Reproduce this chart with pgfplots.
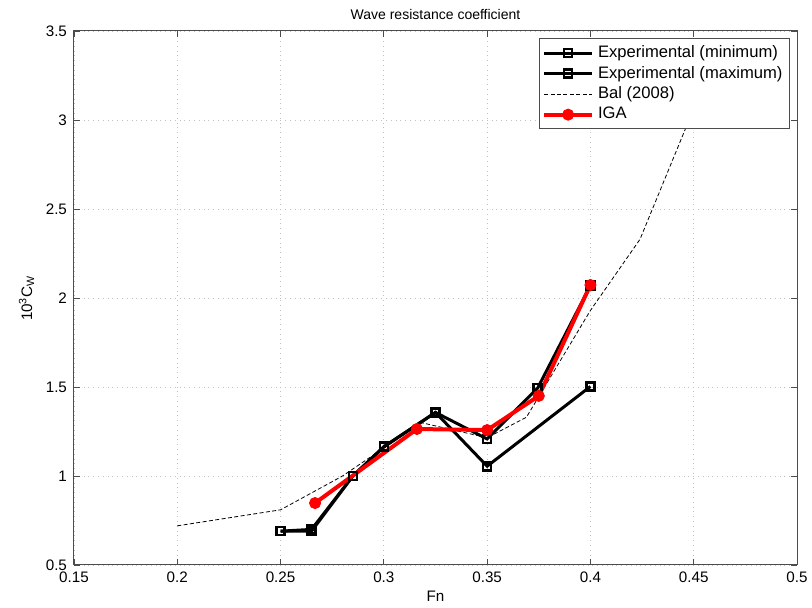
\documentclass[border=0pt]{standalone}
\usepackage{pgfplots}
\pgfplotsset{compat=1.18}
\usepackage{fontspec}
\setmainfont{Liberation Sans}

\begin{document}
\begin{tikzpicture}
\begin{axis}[
    scale only axis,
    width=361.5pt,
    height=267pt,
    xmin=0.15, xmax=0.5,
    ymin=0.5, ymax=3.5,
    xtick={0.15,0.2,...,0.5},
    ytick={0.5,1,...,3.5},
    xticklabel style={/pgf/number format/fixed,/pgf/number format/precision=2},
    yticklabel style={/pgf/number format/fixed},
    /pgf/number format/assume math mode=true,
    font=\fontsize{7.6}{9}\selectfont,
    title style={font=\fontsize{7}{8}\selectfont, yshift=-4pt},
    tick align=inside,
    tick pos=both,
    major tick length=3pt,
    axis line style={black!70, line width=0.5pt},
    tick style={black!70, line width=0.4pt},
    grid=major,
    grid style={gray!50, dotted, line width=0.4pt},
    title={Wave resistance coefficient},
    xlabel={Fn},
    ylabel={10\textsuperscript{3}C\textsubscript{W}},
    xlabel style={yshift=3pt},
    ylabel style={yshift=-1pt},
    legend cell align=left,
    legend image code/.code={
        \draw[mark repeat=2, mark phase=2]
            plot coordinates {(0cm,0cm) (0.42cm,0cm) (0.84cm,0cm)};},
    legend style={at={(1,1)}, anchor=north east, xshift=-3.5pt, yshift=-3.5pt,
        draw=black!70, line width=0.5pt, font=\fontsize{8.3}{9.5}\selectfont,
        row sep=-1.2pt, inner sep=1.5pt},
]

% Experimental (minimum)
\addplot[black, line width=1.5pt, mark=square, mark size=2pt,
    mark options={line width=1.3pt}] coordinates {
    (0.25, 0.69) (0.265, 0.69) (0.285, 1.00) (0.30, 1.163)
    (0.325, 1.357) (0.35, 1.055) (0.40, 1.503)
};
\addlegendentry{Experimental (minimum)}

% Experimental (maximum)
\addplot[black, line width=1.5pt, mark=square, mark size=2pt,
    mark options={line width=1.3pt}] coordinates {
    (0.25, 0.69) (0.265, 0.70) (0.285, 1.00) (0.30, 1.165)
    (0.325, 1.357) (0.35, 1.208) (0.3745, 1.495) (0.40, 2.07)
};
\addlegendentry{Experimental (maximum)}

% Bal (2008)
\addplot[black, dash pattern=on 2pt off 1.2pt, line width=0.4pt] coordinates {
    (0.20, 0.72) (0.25, 0.81) (0.28, 1.00) (0.318, 1.30)
    (0.35, 1.215) (0.369, 1.33) (0.40, 1.93) (0.424, 2.33)
    (0.452, 3.12)
};
\addlegendentry{Bal (2008)}

% IGA
\addplot[red, line width=2pt, mark=*, mark size=2.8pt,
    mark options={fill=red, line width=0.4pt}] coordinates {
    (0.2667, 0.848) (0.316, 1.264) (0.35, 1.258) (0.375, 1.45) (0.40, 2.073)
};
\addlegendentry{IGA}

\end{axis}
\pgfresetboundingbox
\path ([xshift=-37pt,yshift=-21.5pt]current axis.south west)
    rectangle ([xshift=7.5pt,yshift=15.5pt]current axis.north east);
\end{tikzpicture}
\end{document}
